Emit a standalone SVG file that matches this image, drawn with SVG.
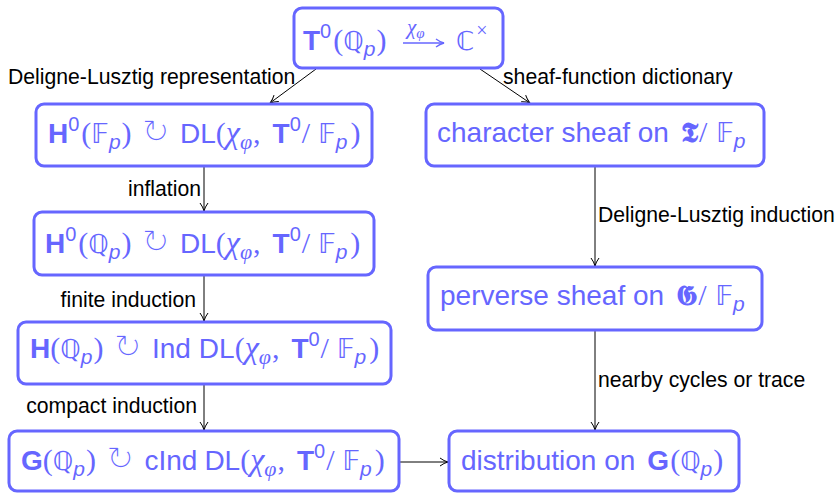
<svg xmlns="http://www.w3.org/2000/svg" width="836" height="493" viewBox="0 0 836 493">
  <style>
    .bx { fill: #ffffff; stroke: #6666ff; stroke-width: 3; }
    .t { font-family: "Liberation Sans", Arial, sans-serif; font-size: 28px; fill: #6666ff; }
    .b { font-weight: bold; }
    .sup { font-size: 20px; }
    .sub { font-size: 21px; font-style: italic; }
    .s { font-family: "Liberation Serif", "DejaVu Serif", serif; font-size: 30px; }
    .bb { font-family: "DejaVu Sans", "DejaVu Serif", serif; font-size: 26px; }
    .ca { font-family: "Noto Sans CJK JP", "DejaVu Sans", sans-serif; font-size: 34px; stroke: #ffffff; stroke-width: 1.4px; }
    .gr { font-family: "Liberation Serif", "DejaVu Serif", serif; font-style: italic; font-size: 32px; }
    .gs { font-family: "Liberation Serif", "DejaVu Serif", serif; font-style: italic; font-size: 22px; }
    .fk { font-family: "DejaVu Serif", "DejaVu Sans", serif; font-weight: bold; }
    .lbl { font-family: "Liberation Sans", Arial, sans-serif; font-size: 21.2px; fill: #000000; }
    .e { stroke: #000000; stroke-width: 1; fill: none; }
  </style>
  <defs>
    <marker id="ah" viewBox="0 0 10 10" refX="9" refY="5" markerWidth="10" markerHeight="10" markerUnits="userSpaceOnUse" orient="auto">
      <path d="M1,1 Q5,4 9,5 Q5,6 1,9" fill="none" stroke="#000" stroke-width="1"/>
    </marker>
    <marker id="ahb" viewBox="0 0 10 10" refX="9" refY="5" markerWidth="10" markerHeight="10" markerUnits="userSpaceOnUse" orient="auto">
      <path d="M1,1 Q5,4 9,5 Q5,6 1,9" fill="none" stroke="#6666ff" stroke-width="1.3"/>
    </marker>
  </defs>

  <!-- connectors -->
  <g id="edges">
    <line class="e" x1="316" y1="69" x2="270" y2="103" marker-end="url(#ah)"/>
    <line class="e" x1="480" y1="69" x2="530" y2="103" marker-end="url(#ah)"/>
    <line class="e" x1="204" y1="167" x2="204" y2="211" marker-end="url(#ah)"/>
    <line class="e" x1="204" y1="276" x2="204" y2="321" marker-end="url(#ah)"/>
    <line class="e" x1="204" y1="385" x2="204" y2="430" marker-end="url(#ah)"/>
    <line class="e" x1="595" y1="167" x2="595" y2="266" marker-end="url(#ah)"/>
    <line class="e" x1="595" y1="331" x2="595" y2="430" marker-end="url(#ah)"/>
    <line class="e" x1="400" y1="462" x2="448" y2="462" marker-end="url(#ah)"/>
    <text class="lbl" x="8" y="84">Deligne-Lusztig representation</text>
    <text class="lbl" x="503" y="84">sheaf-function dictionary</text>
    <text class="lbl" x="201" y="196" text-anchor="end">inflation</text>
    <text class="lbl" x="196" y="307" text-anchor="end">finite induction</text>
    <text class="lbl" x="197" y="413" text-anchor="end">compact induction</text>
    <text class="lbl" x="598" y="222">Deligne-Lusztig induction</text>
    <text class="lbl" x="598" y="387">nearby cycles or trace</text>
  </g>

  <!-- top: character of the torus -->
  <g id="chi">
    <rect class="bx" x="294" y="8" width="209" height="60" rx="8"/>
    <text class="t" x="303" y="50"><tspan class="b">T</tspan><tspan class="sup" dy="-12">0</tspan><tspan class="s" dy="12" dx="2">(</tspan><tspan class="bb">ℚ</tspan><tspan class="sub" dy="6">p</tspan><tspan class="s" dy="-6" dx="1">)</tspan></text>
    <line x1="403" y1="43" x2="444" y2="43" stroke="#6666ff" stroke-width="1.3" marker-end="url(#ahb)"/>
    <text class="t gr" x="407" y="34" style="font-size:21px">χ<tspan style="font-size:15px" dy="4">φ</tspan></text>
    <text class="t" x="456" y="50"><tspan class="bb">ℂ</tspan><tspan class="s" dy="-13" dx="2" style="font-size:20px">×</tspan></text>
  </g>

  <g id="dl-fp">
    <rect class="bx" x="36" y="104" width="336" height="62" rx="8"/>
    <text class="t" x="48" y="143"><tspan class="b">H</tspan><tspan class="sup" dy="-12">0</tspan><tspan class="s" dy="12" dx="2">(</tspan><tspan class="bb">𝔽</tspan><tspan class="sub" dy="6">p</tspan><tspan class="s" dy="-6" dx="1">)</tspan><tspan class="ca" dx="10">↻</tspan><tspan dx="10">DL</tspan><tspan class="s">(</tspan><tspan class="gr">χ</tspan><tspan class="gs" dy="6">φ</tspan><tspan class="s" dy="-6" dx="1">,</tspan><tspan class="b" dx="12">T</tspan><tspan class="sup" dy="-12">0</tspan><tspan class="s" dy="12" dx="1">/</tspan><tspan class="bb" dx="8">𝔽</tspan><tspan class="sub" dy="6">p</tspan><tspan class="s" dy="-6" dx="3">)</tspan></text>
  </g>

  <g id="dl-qp">
    <rect class="bx" x="34" y="212" width="340" height="63" rx="8"/>
    <text class="t" x="45" y="253"><tspan class="b">H</tspan><tspan class="sup" dy="-12">0</tspan><tspan class="s" dy="12" dx="2">(</tspan><tspan class="bb">ℚ</tspan><tspan class="sub" dy="6">p</tspan><tspan class="s" dy="-6" dx="1">)</tspan><tspan class="ca" dx="10">↻</tspan><tspan dx="10">DL</tspan><tspan class="s">(</tspan><tspan class="gr">χ</tspan><tspan class="gs" dy="6">φ</tspan><tspan class="s" dy="-6" dx="1">,</tspan><tspan class="b" dx="12">T</tspan><tspan class="sup" dy="-12">0</tspan><tspan class="s" dy="12" dx="1">/</tspan><tspan class="bb" dx="8">𝔽</tspan><tspan class="sub" dy="6">p</tspan><tspan class="s" dy="-6" dx="3">)</tspan></text>
  </g>

  <g id="ind">
    <rect class="bx" x="18" y="322" width="373" height="62" rx="8"/>
    <text class="t" x="30" y="358"><tspan class="b">H</tspan><tspan class="s">(</tspan><tspan class="bb">ℚ</tspan><tspan class="sub" dy="6">p</tspan><tspan class="s" dy="-6" dx="1">)</tspan><tspan class="ca" dx="10">↻</tspan><tspan dx="10">Ind</tspan><tspan dx="8">DL</tspan><tspan class="s">(</tspan><tspan class="gr">χ</tspan><tspan class="gs" dy="6">φ</tspan><tspan class="s" dy="-6" dx="1">,</tspan><tspan class="b" dx="12">T</tspan><tspan class="sup" dy="-12">0</tspan><tspan class="s" dy="12" dx="1">/</tspan><tspan class="bb" dx="8">𝔽</tspan><tspan class="sub" dy="6">p</tspan><tspan class="s" dy="-6" dx="3">)</tspan></text>
  </g>

  <g id="cind">
    <rect class="bx" x="9" y="431" width="390" height="60" rx="8"/>
    <text class="t" x="21" y="470"><tspan class="b">G</tspan><tspan class="s">(</tspan><tspan class="bb">ℚ</tspan><tspan class="sub" dy="6">p</tspan><tspan class="s" dy="-6" dx="1">)</tspan><tspan class="ca" dx="10">↻</tspan><tspan dx="10">cInd</tspan><tspan dx="7">DL</tspan><tspan class="s">(</tspan><tspan class="gr">χ</tspan><tspan class="gs" dy="6">φ</tspan><tspan class="s" dy="-6" dx="1">,</tspan><tspan class="b" dx="12">T</tspan><tspan class="sup" dy="-12">0</tspan><tspan class="s" dy="12" dx="1">/</tspan><tspan class="bb" dx="8">𝔽</tspan><tspan class="sub" dy="6">p</tspan><tspan class="s" dy="-6" dx="3">)</tspan></text>
  </g>

  <g id="char-sheaf">
    <rect class="bx" x="426" y="104" width="338" height="62" rx="8"/>
    <text class="t" x="437" y="142">character sheaf on<tspan class="fk" dx="12">𝕿</tspan><tspan class="s" dx="1">/</tspan><tspan class="bb" dx="9">𝔽</tspan><tspan class="sub" dy="6">p</tspan></text>
  </g>

  <g id="perverse">
    <rect class="bx" x="428" y="267" width="334" height="63" rx="8"/>
    <text class="t" x="440" y="305">perverse sheaf on<tspan class="fk" dx="12">𝕲</tspan><tspan class="s" dx="1">/</tspan><tspan class="bb" dx="9">𝔽</tspan><tspan class="sub" dy="6">p</tspan></text>
  </g>

  <g id="distribution">
    <rect class="bx" x="449" y="431" width="290" height="60" rx="8"/>
    <text class="t" x="461" y="470">distribution on<tspan class="b" dx="12">G</tspan><tspan class="s" dx="1">(</tspan><tspan class="bb">ℚ</tspan><tspan class="sub" dy="6">p</tspan><tspan class="s" dy="-6" dx="1">)</tspan></text>
  </g>
</svg>
